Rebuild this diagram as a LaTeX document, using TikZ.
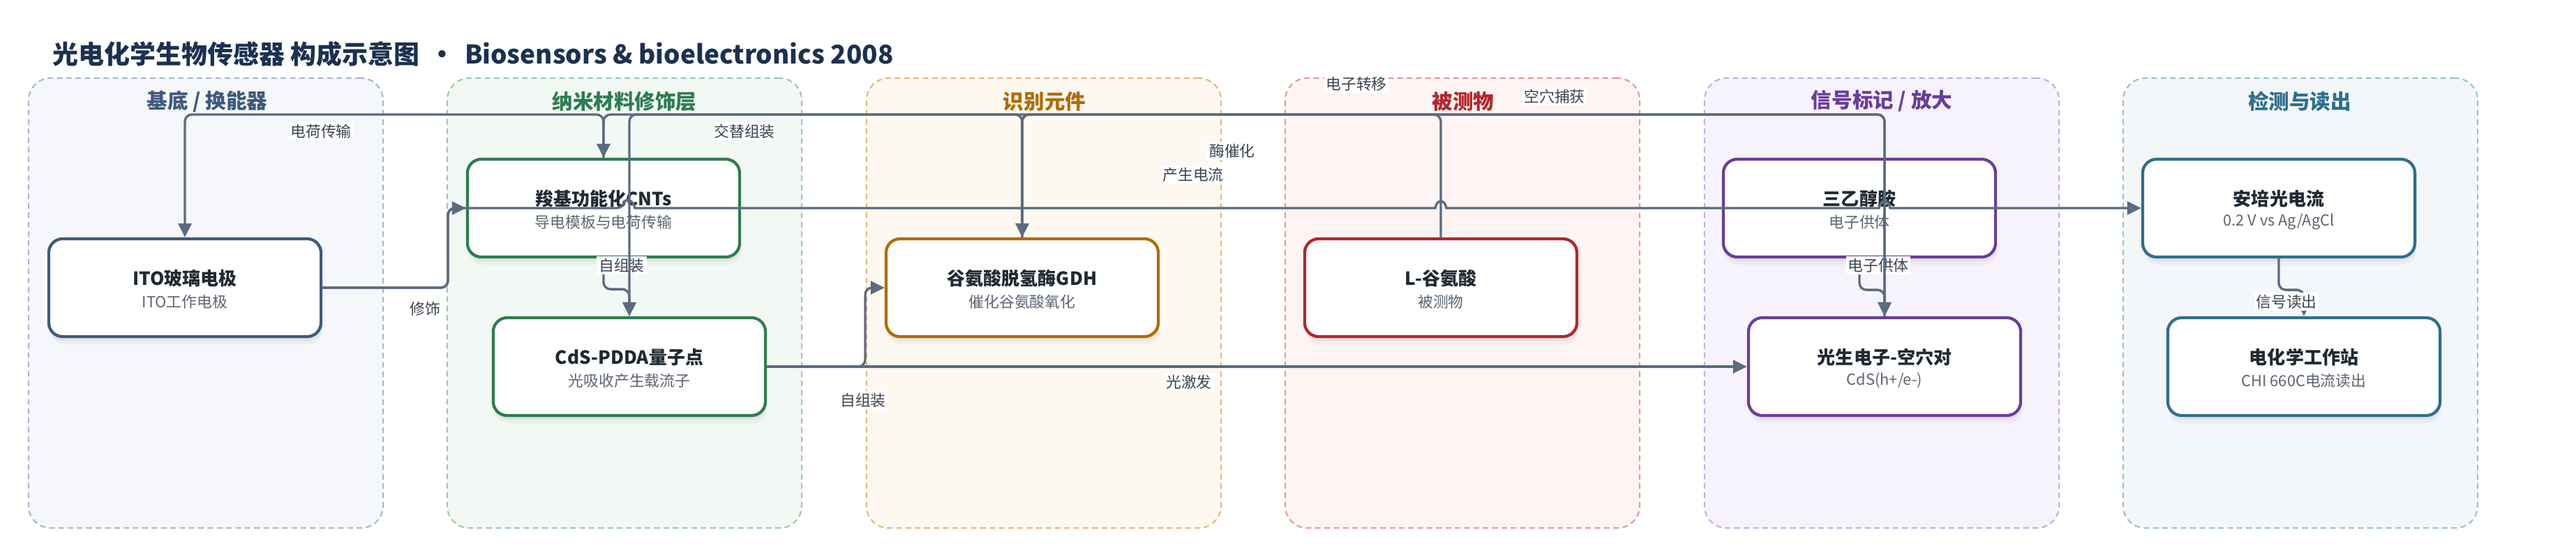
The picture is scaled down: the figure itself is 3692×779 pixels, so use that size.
\documentclass[tikz,border=0pt]{standalone}
\usepackage{fontspec}
\setmainfont{Noto Sans CJK SC}
\usetikzlibrary{arrows.meta,shadows,calc}

\definecolor{ttl}{HTML}{1C3150}
\definecolor{ink}{HTML}{1F2933}
\definecolor{subc}{HTML}{5B6573}
\definecolor{lblc}{HTML}{3C4450}
\definecolor{edgec}{HTML}{5B6B80}
\definecolor{cA}{HTML}{3F5A7E}\definecolor{fA}{HTML}{F5F7FB}\definecolor{dA}{HTML}{A9B7CC}
\definecolor{cB}{HTML}{2E7D4F}\definecolor{fB}{HTML}{F2F8F4}\definecolor{dB}{HTML}{9CCAA9}
\definecolor{cC}{HTML}{B36B00}\definecolor{fC}{HTML}{FDF8F0}\definecolor{dC}{HTML}{E3B879}
\definecolor{cD}{HTML}{B3262A}\definecolor{fD}{HTML}{FDF4F3}\definecolor{dD}{HTML}{E39A9A}
\definecolor{cE}{HTML}{6A3D9A}\definecolor{fE}{HTML}{F7F3FC}\definecolor{dE}{HTML}{C4ACDF}
\definecolor{cF}{HTML}{2E6F8E}\definecolor{fF}{HTML}{F3F7F9}\definecolor{dF}{HTML}{9DBFCE}

\tikzset{
  grp/.style={rectangle, rounded corners=0.32cm, line width=0.6pt,
    dash pattern=on 2.3pt off 1.5pt, minimum width=5.08cm, minimum height=6.44cm, inner sep=0pt},
  gtitle/.style={font=\fontsize{8.4}{10}\selectfont\bfseries, inner sep=0pt},
  nbox/.style={rectangle, rounded corners=0.2cm, fill=white, line width=1.2pt,
    minimum width=3.9cm, minimum height=1.4cm, inner sep=0pt,
    drop shadow={shadow xshift=0.02cm, shadow yshift=-0.11cm, opacity=0.07},
    drop shadow={shadow xshift=0.01cm, shadow yshift=-0.06cm, opacity=0.10}},
  ntitle/.style={font=\fontsize{7.4}{9}\selectfont\bfseries, text=ink, inner sep=0pt},
  nsub/.style={font=\fontsize{6.2}{8}\selectfont, text=subc, inner sep=0pt},
  edge/.style={draw=edgec, line width=0.95pt, rounded corners=0.1cm,
    -{Triangle[length=0.2cm,width=0.19cm]}},
  lbl/.style={fill=white, inner sep=0.8pt, text=lblc, font=\fontsize{6.2}{7.5}\selectfont},
}

\newcommand{\mkbox}[6]{%
  \node[nbox, draw=#4] (#1) at (#2,#3) {};
  \node[ntitle] (#1t) at ([yshift=0.135cm]#1.center) {#5};
  \node[nsub] (#1s) at ([yshift=-0.2cm]#1.center) {#6};
}

\begin{document}
\begin{tikzpicture}[x=0.01cm, y=-0.01cm]
\useasboundingbox (0,0) rectangle (3692,779);
\fill[white] (0,0) rectangle (3692,779);

% title
\node[anchor=west, inner sep=0pt, text=ttl, font=\fontsize{10.5}{12}\selectfont\bfseries] (title) at (75,77)
  {光电化学生物传感器 构成示意图\hspace{0.38em}•\hspace{0.38em}Biosensors \& bioelectronics 2008};

% groups
\node[grp, draw=dA, fill=fA] (g1) at (295,434) {};
\node[grp, draw=dB, fill=fB] (g2) at (895,434) {};
\node[grp, draw=dC, fill=fC] (g3) at (1496,434) {};
\node[grp, draw=dD, fill=fD] (g4) at (2096,434) {};
\node[grp, draw=dE, fill=fE] (g5) at (2697,434) {};
\node[grp, draw=dF, fill=fF] (g6) at (3297,434) {};
\node[gtitle, text=cA] (g1t) at (297,145) {基底 / 换能器};
\node[gtitle, text=cB] (g2t) at (895,145) {纳米材料修饰层};
\node[gtitle, text=cC] (g3t) at (1497,145) {识别元件};
\node[gtitle, text=cD] (g4t) at (2097,145) {被测物};
\node[gtitle, text=cE] (g5t) at (2697,145) {信号标记 / 放大};
\node[gtitle, text=cF] (g6t) at (3296,145) {检测与读出};

% nodes
\mkbox{ITO}{265}{412}{cA}{ITO玻璃电极}{ITO工作电极}
\mkbox{CNT}{865}{298}{cB}{羧基功能化CNTs}{导电模板与电荷传输}
\mkbox{CdS}{902}{525}{cB}{CdS-PDDA量子点}{光吸收产生载流子}
\mkbox{GDH}{1465}{412}{cC}{谷氨酸脱氢酶GDH}{催化谷氨酸氧化}
\mkbox{Lglu}{2065}{412}{cD}{L-谷氨酸}{被测物}
\mkbox{TEOA}{2665}{298}{cE}{三乙醇胺}{电子供体}
\mkbox{eh}{2701}{525}{cE}{光生电子-空穴对}{CdS(h+/e-)}
\mkbox{amp}{3266}{298}{cF}{安培光电流}{0.2 V vs Ag/AgCl}
\mkbox{CHI}{3302}{525}{cF}{电化学工作站}{CHI 660C电流读出}

\coordinate (bus) at (0,164);

% edges
\draw[edge] (ITO.east) -- (642,412) |- (CNT.west);
\node[lbl] (l1) at (609,442) {修饰};

\draw[edge] (CNT.south) -- ++(0,44) -| (CdS.north);
\node[lbl] (l2) at (891,380) {自组装};

\draw[edge] (CdS.east) -- (1240,525) |- (GDH.west);
\node[lbl] (l3) at (1237,573) {自组装};

\draw[edge] (CdS.east) -- (eh.west);
\node[lbl] (l4) at (1704,547) {光激发};

\draw[edge] (TEOA.south) -- ++(0,45) -| (eh.north);
\node[lbl] (l5) at (2692,380) {电子供体};

\draw[edge] (amp.south) -- ++(0,45) -| (CHI.north);
\node[lbl] (l6) at (3277,432) {信号读出};

\draw[edge] (CNT.north) -- (CNT.north |- bus) -- (ITO.north |- bus) -- (ITO.north);
\node[lbl] (l7) at (460,188) {电荷传输};

\draw[edge] (Lglu.north) -- (Lglu.north |- bus) -- (GDH.north |- bus) -- (GDH.north);
\node[lbl] (l8) at (1766,216) {酶催化};

\draw[edge] (GDH.north) -- (GDH.north |- bus) -- (CdS.north |- bus) -- (CdS.north);
\node[lbl] (l9) at (1067,188) {交替组装};

\draw[edge] (eh.north) -- (eh.north |- bus) -- (CNT.north |- bus) -- (CNT.north);
\node[lbl] (l10) at (1944,120) {电子转移};

\draw[edge] (GDH.north) -- (GDH.north |- bus) -- (eh.north |- bus) -- (eh.north);
\node[lbl] (l11) at (2228,138) {空穴捕获};

\draw[edge] (ITO.east) -- (642,412) -- (642,298) -- (894,298) [sharp corners]
  .. controls (896,285) and (908,285) .. (910,298) -- (2057,298)
  .. controls (2059,285) and (2071,285) .. (2073,298) -- (2693,298)
  .. controls (2695,285) and (2707,285) .. (2709,298) -- (amp.west);
\node[lbl] (l12) at (1710,250) {产生电流};
\end{tikzpicture}
\end{document}
